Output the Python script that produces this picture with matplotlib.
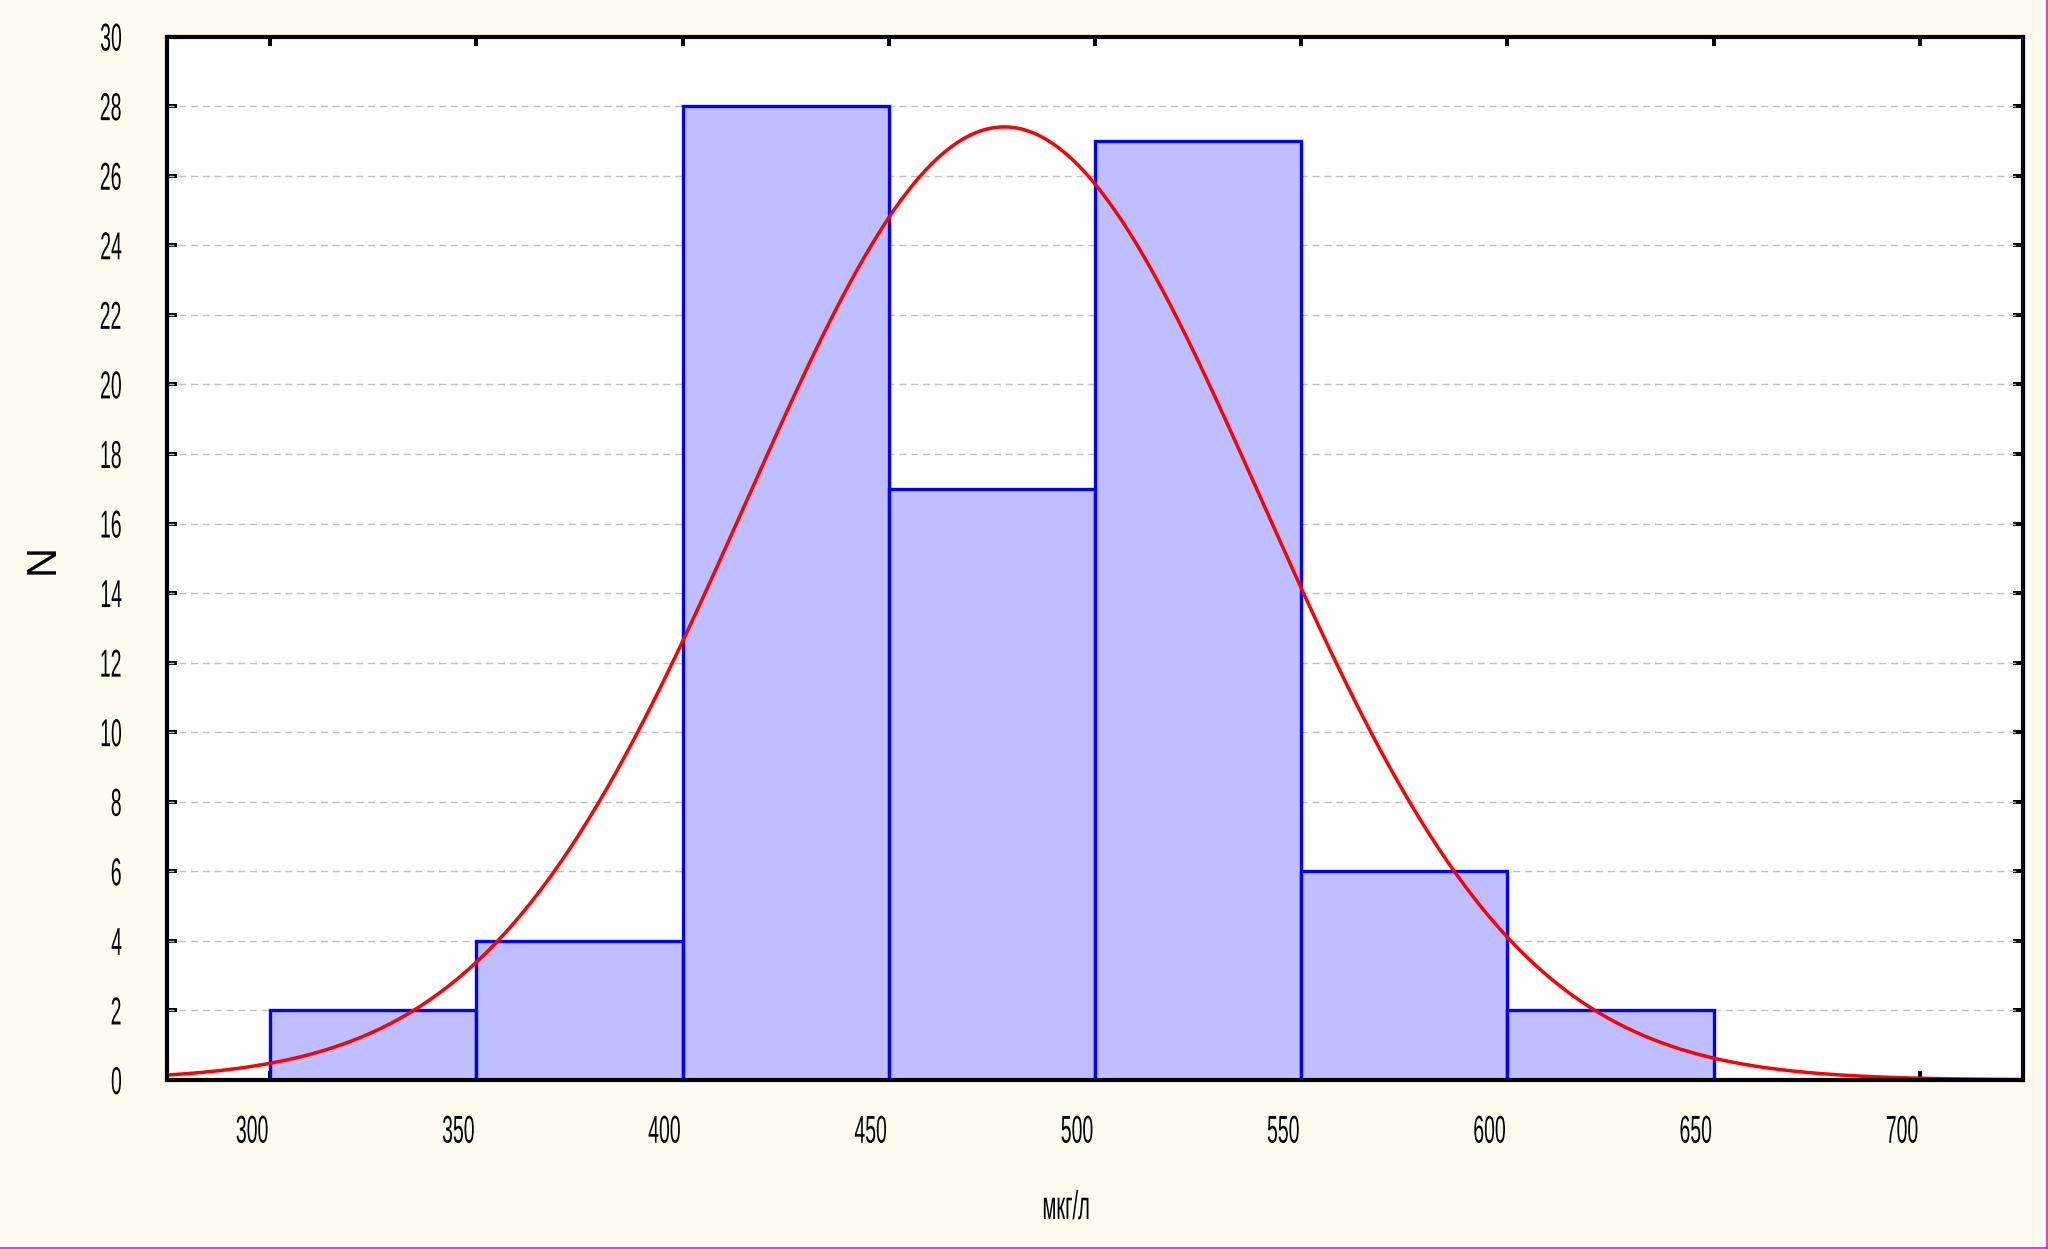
import numpy as np
import matplotlib
matplotlib.use("Agg")
import matplotlib.pyplot as plt
from matplotlib import font_manager
from matplotlib.transforms import ScaledTranslation, Affine2D
from matplotlib.lines import Line2D
from matplotlib.patheffects import AbstractPathEffect

# ---- data ----
bin_edges = [300, 350, 400, 450, 500, 550, 600, 650]
counts = [2, 4, 28, 17, 27, 6, 2]
x_ticks = [300, 350, 400, 450, 500, 550, 600, 650, 700]
y_ticks = list(range(0, 31, 2))
fit_mean = 478.0      # fitted normal curve parameters
fit_sd = 62.6
x_label = "мкг/л"
y_label = "N"


class Squeeze(AbstractPathEffect):
    """Horizontally condense text glyphs (narrow font look)."""
    def __init__(self, sx=0.5, anchor="center"):
        super().__init__()
        self.sx = sx
        self.anchor = anchor

    def draw_path(self, renderer, gc, tpath, affine, rgbFace=None):
        ext = affine.transform_path(tpath).get_extents()
        if self.anchor == "right":
            cx = ext.x1
        elif self.anchor == "left":
            cx = ext.x0
        else:
            cx = 0.5 * (ext.x0 + ext.x1)
        tr = affine + Affine2D().translate(-cx, 0).scale(self.sx, 1).translate(cx, 0)
        renderer.draw_path(gc, tpath, tr, rgbFace)


names = {f.name for f in font_manager.fontManager.ttflist}
narrow = "Liberation Sans Narrow" if "Liberation Sans Narrow" in names else "Liberation Sans"
tick_font = [narrow, "DejaVu Sans"]
SX = 0.5 if narrow == "Liberation Sans" else 0.62

fig = plt.figure(figsize=(20.48, 12.49), dpi=100, facecolor="#FEFAEF")
ax = fig.add_axes([167/2048, 1-1080/1249, (2023-167)/2048, (1080-36.6)/1249])
ax.set_facecolor("white")

widths = np.diff(bin_edges)
ax.bar(bin_edges[:-1], counts, width=widths, align="edge",
       facecolor="#BFBFFF", edgecolor="#0000FF", linewidth=2.4, zorder=2)

xx = np.linspace(275, 725, 600)
n_total = sum(counts)
bw = widths[0]
yy = n_total * bw / (fit_sd * np.sqrt(2 * np.pi)) * np.exp(-0.5 * ((xx - fit_mean) / fit_sd) ** 2)
ax.plot(xx, yy, color="#FF0000", linewidth=2.5, zorder=3, clip_on=True)

ax.set_xlim(275, 725)
ax.set_ylim(0, 30)
ax.set_xticks(x_ticks)
ax.set_yticks(y_ticks)

for s in ax.spines.values():
    s.set_linewidth(3.0)
    s.set_zorder(5)

ax.tick_params(axis="x", direction="in", length=6.5, width=2.9, top=True, bottom=True,
               pad=25, labelsize=28)
ax.tick_params(axis="y", direction="in", length=7.5, width=2.9, left=True, right=True,
               pad=32, labelsize=28)
for lab in ax.get_xticklabels():
    lab.set_family(tick_font)
    lab.set_path_effects([Squeeze(SX, "center")])
    lab.set_transform(lab.get_transform() + ScaledTranslation(-18/100, 0, fig.dpi_scale_trans))
for lab in ax.get_yticklabels():
    lab.set_family(tick_font)
    lab.set_path_effects([Squeeze(SX, "right")])

for yv in y_ticks[1:-1]:
    ax.axhline(yv, color="#C0C0C0", linewidth=1.0, linestyle=(0, (5, 3.5)), zorder=1)
ax.set_axisbelow(True)

fig.text(43/2048, 1-559/1249, y_label, rotation=90, ha="center", va="center",
         fontsize=30, family=["Liberation Sans", "DejaVu Sans"])
fig.text(1066/2048, 1-1208/1249, x_label, ha="center", va="center",
         fontsize=29, family=tick_font, path_effects=[Squeeze(SX, "center")])

# thin magenta frame edges visible on right and bottom
fig.add_artist(Line2D([0.9993, 0.9993], [0, 1], transform=fig.transFigure, color="#FF00FF", linewidth=1.2))
fig.add_artist(Line2D([0, 1], [0.0008, 0.0008], transform=fig.transFigure, color="#FF00FF", linewidth=1.2))

fig.savefig("out.png", dpi=100, facecolor=fig.get_facecolor())
